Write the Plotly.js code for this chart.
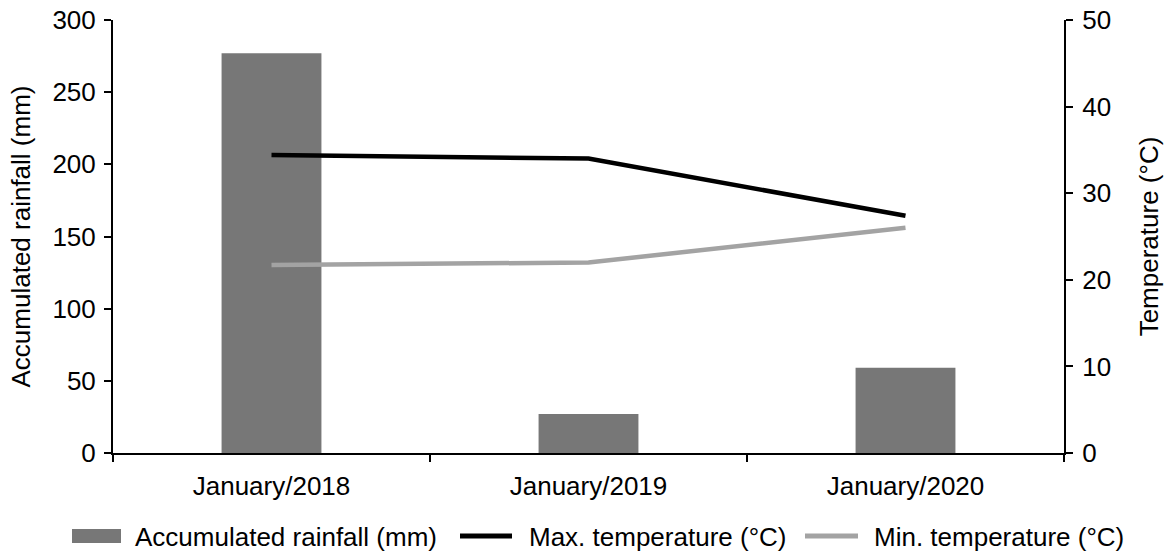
<!DOCTYPE html>
<html><head><meta charset="utf-8">
<script src="https://cdn.plot.ly/plotly-3.0.1.min.js"></script>
<style>html,body{margin:0;padding:0;background:#fff}#chart{width:1174px;height:560px}</style>
</head><body><div id="chart"></div>
<script>
const categories = ["January/2018", "January/2019", "January/2020"];
const rainfall = [277, 27, 59];
const maxTemp = [34.4, 34.0, 27.4];
const minTemp = [21.7, 22.0, 26.0];
const leftTicks = [0, 50, 100, 150, 200, 250, 300];
const rightTicks = [0, 10, 20, 30, 40, 50];
const seriesNames = ["Accumulated rainfall (mm)", "Max. temperature (°C)", "Min. temperature (°C)"];
const seriesColors = ["#777777", "#000000", "#a3a3a3"];

const FONT = {family: "Liberation Sans, Arial, sans-serif", size: 26, color: "#000"};

// plot area in pixels
const W = 1174, H = 560, ML = 113, MR = 110, MT = 20, MB = 107;
const PW = W - ML - MR, PH = H - MT - MB;
const px = x => (x - ML) / PW;
const py = y => (H - MB - y) / PH;

const traces = [
  {type: "bar", x: categories, y: rainfall, name: seriesNames[0],
   marker: {color: seriesColors[0]}, yaxis: "y"},
  {type: "scatter", mode: "lines", x: categories, y: maxTemp, name: seriesNames[1],
   line: {color: seriesColors[1], width: 4.5}, yaxis: "y2"},
  {type: "scatter", mode: "lines", x: categories, y: minTemp, name: seriesNames[2],
   line: {color: seriesColors[2], width: 4.5}, yaxis: "y2"}
];

// custom legend (swatches + labels)
const legY = 536;
const shapes = [
  {type: "rect", xref: "paper", yref: "paper", x0: px(72), x1: px(121), y0: py(543), y1: py(529),
   fillcolor: seriesColors[0], line: {width: 0}},
  {type: "line", xref: "paper", yref: "paper", x0: px(460), x1: px(512), y0: py(legY), y1: py(legY),
   line: {color: seriesColors[1], width: 5}},
  {type: "line", xref: "paper", yref: "paper", x0: px(805), x1: px(858), y0: py(legY), y1: py(legY),
   line: {color: seriesColors[2], width: 5}}
];
const legX = [133, 527, 872];
const annotations = seriesNames.map((n, i) => ({
  xref: "paper", yref: "paper", x: px(legX[i]), y: py(legY + 1), xanchor: "left", yanchor: "middle",
  text: n, showarrow: false, font: FONT
}));

const layout = {
  width: W, height: H,
  margin: {l: ML, r: MR, t: MT, b: MB},
  paper_bgcolor: "#fff", plot_bgcolor: "#fff",
  font: FONT,
  bargap: 0.685,
  showlegend: false,
  shapes: shapes,
  annotations: annotations,
  xaxis: {type: "category", range: [-0.5, 2.5], showline: true, linecolor: "#000", linewidth: 2,
          ticks: "outside", tickson: "boundaries", ticklen: 7, tickwidth: 2, tickcolor: "#000",
          ticklabelstandoff: 9,
          showgrid: false, zeroline: false, tickfont: FONT, automargin: false},
  yaxis: {range: [0, 300], tickvals: leftTicks, ticktext: leftTicks.map(String),
          showline: true, linecolor: "#000", linewidth: 2, ticks: "outside", ticklen: 7,
          tickwidth: 2, tickcolor: "#000", showgrid: false, zeroline: false, tickfont: FONT,
          ticklabelstandoff: 3, automargin: false,
          title: {text: seriesNames[0], font: FONT, standoff: 14}},
  yaxis2: {range: [0, 50], tickvals: rightTicks, ticktext: rightTicks.map(String),
           overlaying: "y", side: "right",
           showline: true, linecolor: "#000", linewidth: 2, ticks: "outside", ticklen: 7,
           tickwidth: 2, tickcolor: "#000", showgrid: false, zeroline: false, tickfont: FONT,
           ticklabelstandoff: 4, automargin: false,
           title: {text: "Temperature (°C)", font: FONT, standoff: 30}}
};

Plotly.newPlot("chart", traces, layout, {displayModeBar: false, staticPlot: true});
</script></body></html>
